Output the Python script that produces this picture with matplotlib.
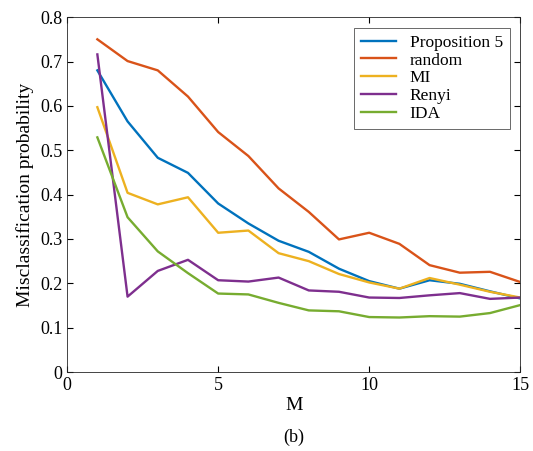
import numpy as np
import matplotlib as mpl
mpl.use("Agg")
import matplotlib.pyplot as plt

mpl.rcParams["font.family"] = "Liberation Serif"
mpl.rcParams["font.size"] = 13

m = np.arange(1, 16)
prop5 = [0.68, 0.565, 0.483, 0.449, 0.38, 0.335, 0.296, 0.271, 0.233, 0.205, 0.188, 0.207, 0.199, 0.182, 0.166]
random_sel = [0.75, 0.701, 0.68, 0.621, 0.541, 0.487, 0.414, 0.361, 0.299, 0.314, 0.289, 0.241, 0.224, 0.226, 0.203]
mi = [0.597, 0.404, 0.378, 0.394, 0.314, 0.319, 0.268, 0.250, 0.221, 0.202, 0.188, 0.212, 0.197, 0.181, 0.168]
renyi = [0.716, 0.17, 0.228, 0.253, 0.207, 0.204, 0.213, 0.184, 0.181, 0.168, 0.167, 0.173, 0.178, 0.165, 0.168]
ida = [0.529, 0.349, 0.272, 0.223, 0.177, 0.175, 0.156, 0.139, 0.137, 0.124, 0.123, 0.126, 0.125, 0.133, 0.151]

fig = plt.figure(figsize=(5.33, 4.51), dpi=100)
ax = fig.add_axes([0.126, 0.175, 0.85, 0.787])
ax.plot(m, prop5, color="#0072BD", lw=1.7, label="Proposition 5")
ax.plot(m, random_sel, color="#D95319", lw=1.7, label="random")
ax.plot(m, mi, color="#EDB120", lw=1.7, label="MI")
ax.plot(m, renyi, color="#7E2F8E", lw=1.7, label="Renyi")
ax.plot(m, ida, color="#77AC30", lw=1.7, label="IDA")
ax.set_xlim(0, 15)
ax.set_ylim(0, 0.8)
ax.set_xticks([0, 5, 10, 15])
ax.set_yticks(np.arange(0, 0.81, 0.1))
ax.set_yticklabels(["0", "0.1", "0.2", "0.3", "0.4", "0.5", "0.6", "0.7", "0.8"])
ax.tick_params(direction="in", top=True, right=True, length=4)
for s in ax.spines.values():
    s.set_color("#262626")
    s.set_linewidth(0.6)
ax.set_xlabel("M", fontsize=14, labelpad=2)
ax.set_ylabel("Misclassification probability", fontsize=14)
leg = ax.legend(loc="upper right", fancybox=False, edgecolor="#262626",
                fontsize=12.5, handlelength=2.0, borderaxespad=0.6, labelspacing=0.1)
leg.get_frame().set_linewidth(0.6)
fig.text(0.551, 0.02, "(b)", ha="center", fontsize=13)
fig.savefig("out.png", dpi=100)
